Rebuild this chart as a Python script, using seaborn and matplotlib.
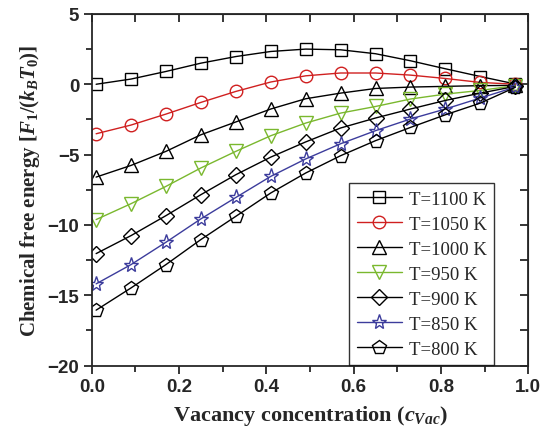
import numpy as np
import pandas as pd
import matplotlib
matplotlib.use('Agg')
import matplotlib.pyplot as plt
from matplotlib.ticker import MultipleLocator
import seaborn as sns

# vacancy concentration sample points
c_vac = [0.01, 0.09, 0.17, 0.25, 0.33, 0.41, 0.49, 0.57, 0.65, 0.73, 0.81, 0.89, 0.97]

temps = ['T=1100 K', 'T=1050 K', 'T=1000 K', 'T=950 K', 'T=900 K', 'T=850 K', 'T=800 K']

f_1100 = [0.0, 0.37, 0.91, 1.50, 1.97, 2.33, 2.50, 2.45, 2.17, 1.67, 1.10, 0.55, 0.02]
f_1050 = [-3.52, -2.90, -2.12, -1.29, -0.51, 0.16, 0.60, 0.80, 0.80, 0.65, 0.41, 0.13, 0.0]
f_1000 = [-6.60, -5.77, -4.77, -3.59, -2.68, -1.76, -1.03, -0.63, -0.30, -0.20, -0.15, -0.10, -0.08]
f_950 = [-9.62, -8.49, -7.26, -5.95, -4.77, -3.66, -2.76, -2.05, -1.58, -1.05, -0.70, -0.44, -0.10]
f_900 = [-12.04, -10.76, -9.34, -7.85, -6.43, -5.18, -4.10, -3.11, -2.40, -1.76, -1.15, -0.63, -0.15]
f_850 = [-14.19, -12.82, -11.23, -9.57, -8.05, -6.55, -5.31, -4.23, -3.30, -2.47, -1.76, -0.98, -0.20]
f_800 = [-16.06, -14.48, -12.82, -11.04, -9.39, -7.73, -6.31, -5.08, -4.01, -3.07, -2.17, -1.34, -0.22]

series = [f_1100, f_1050, f_1000, f_950, f_900, f_850, f_800]
colors = ['black', '#d02020', 'black', '#7ab82e', 'black', '#3c3c9c', 'black']
markers = ['s', 'o', '^', 'v', 'D', '*', 'p']
msizes = [8, 9, 10, 10, 8, 11, 10]

sns.set_style('ticks')
plt.rcParams['font.family'] = ['Liberation Sans', 'DejaVu Sans']
plt.rcParams['mathtext.fontset'] = 'custom'
plt.rcParams['mathtext.rm'] = 'Liberation Serif:bold'
plt.rcParams['mathtext.it'] = 'Liberation Serif:italic:bold'
plt.rcParams['mathtext.bf'] = 'Liberation Serif:bold'

fig = plt.figure(figsize=(5.43, 4.39), dpi=100)
ax = fig.add_axes([0.169, 0.165, 0.804, 0.801])

for lab, vals, c, m, s in zip(temps, series, colors, markers, msizes):
    df = pd.DataFrame({'c': c_vac, 'F': vals})
    sns.lineplot(data=df, x='c', y='F', ax=ax, color=c, marker=m, markersize=s,
                 markerfacecolor='none', markeredgecolor=c, markeredgewidth=1.0,
                 linewidth=1.0, label=lab)

ax.set_xlim(0, 1.0)
ax.set_ylim(-20, 5)
ax.xaxis.set_minor_locator(MultipleLocator(0.1))
ax.yaxis.set_major_locator(MultipleLocator(5))
ax.yaxis.set_minor_locator(MultipleLocator(2.5))
ax.set_xticks(np.arange(0, 1.01, 0.2))
ax.set_xticklabels(['0.0', '0.2', '0.4', '0.6', '0.8', '1.0'])

for sp in ax.spines.values():
    sp.set_linewidth(1.3)
    sp.set_visible(True)

ax.tick_params(axis='both', which='major', direction='out', length=6, width=1.3,
               labelsize=13.5, pad=3)
ax.tick_params(axis='both', which='minor', direction='out', length=4, width=1.3)
for lbl in ax.get_xticklabels() + ax.get_yticklabels():
    lbl.set_fontweight('bold')

# inward ticks on top and right
ax_top = ax.secondary_xaxis('top')
ax_top.xaxis.set_major_locator(MultipleLocator(0.1))
ax_top.tick_params(direction='in', length=6, width=1.3, labeltop=False)
ax_right = ax.secondary_yaxis('right')
ax_right.yaxis.set_major_locator(MultipleLocator(2.5))
ax_right.tick_params(direction='in', length=6, width=1.3, labelright=False)

ax.set_xlabel(r'Vacancy concentration ($\mathit{c}_{\mathit{Vac}}$)',
              family='Liberation Serif', fontweight='bold', fontsize=16, labelpad=6)
ax.set_ylabel(r'Chemical free energy [$\mathit{F}_{1}/(\mathit{k}_{\mathit{B}}\mathit{T}_{0})$]',
              family='Liberation Serif', fontweight='bold', fontsize=15, labelpad=4)

leg = ax.legend(loc='upper left', bbox_to_anchor=(349 / 543, 1 - 184 / 439),
                bbox_transform=fig.transFigure, frameon=True, fancybox=False,
                edgecolor='black', prop={'family': 'Liberation Serif', 'size': 13.5},
                handlelength=2.4, labelspacing=0.42, borderpad=0.4, handletextpad=0.4,
                borderaxespad=0)
leg.get_frame().set_linewidth(1.0)

fig.savefig('out.png', dpi=100)
